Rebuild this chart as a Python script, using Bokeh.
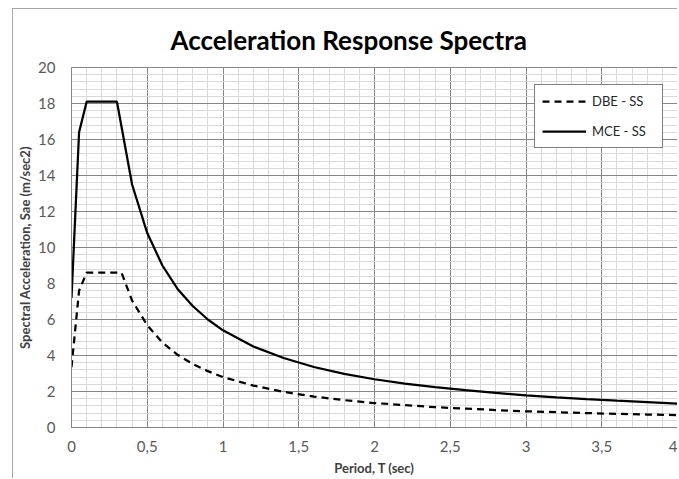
import numpy as np
from bokeh.plotting import figure
from bokeh.models import Range1d, FixedTicker, Legend, LegendItem
from bokeh.embed import file_html
from bokeh.resources import INLINE

# ---- data ----
period = [0, 0.05, 0.1, 0.3, 0.4, 0.5, 0.6, 0.7, 0.8, 0.9, 1.0, 1.2, 1.4, 1.6, 1.8,
          2.0, 2.2, 2.4, 2.6, 2.8, 3.0, 3.2, 3.4, 3.6, 3.8, 4.0]
mce_ss = [7.2, 16.4, 18.1, 18.1, 13.5, 10.8, 9.0, 7.7, 6.75, 6.0, 5.4, 4.5, 3.86, 3.36, 2.98,
          2.68, 2.44, 2.24, 2.07, 1.92, 1.79, 1.68, 1.58, 1.49, 1.41, 1.33]

period_dbe = [0, 0.05, 0.1, 0.33, 0.4, 0.5, 0.6, 0.7, 0.8, 0.9, 1.0, 1.2, 1.4, 1.6, 1.8,
              2.0, 2.2, 2.4, 2.6, 2.8, 3.0, 3.2, 3.4, 3.6, 3.8, 4.0]
dbe_ss = [3.35, 7.6, 8.6, 8.6, 7.05, 5.68, 4.72, 4.04, 3.53, 3.13, 2.8, 2.33, 1.98, 1.72, 1.52,
          1.36, 1.24, 1.13, 1.05, 0.97, 0.9, 0.85, 0.8, 0.76, 0.72, 0.69]

x_ticks = [0, 0.5, 1, 1.5, 2, 2.5, 3, 3.5, 4]
x_tick_labels = ["0", "0,5", "1", "1,5", "2", "2,5", "3", "3,5", "4"]
y_ticks = [0, 2, 4, 6, 8, 10, 12, 14, 16, 18, 20]
y_tick_labels = ["0", "2", "4", "6", "8", "10", "12", "14", "16", "18", "20"]

title_text = "Acceleration Response Spectra"
x_title = "Period, T (sec)"
y_title = "Spectral Acceleration, Sae (m/sec2)"
series_names = ["DBE - SS", "MCE - SS"]

FONT = "Lato"

p = figure(frame_width=606, frame_height=360,
           output_backend="svg", toolbar_location=None,
           x_range=Range1d(0, 4), y_range=Range1d(0, 20),
           min_border_left=58, min_border_right=0, min_border_top=58, min_border_bottom=44,
           background_fill_color="white", border_fill_color="white")
p.styles = {"margin-left": "12px", "margin-top": "8px",
            "border-left": "1px solid #a6a6a6",
            "border-top": "1px solid #a6a6a6"}

p.title.text = title_text
p.title.align = "left"
p.title.offset = 99
p.title.text_font = FONT
p.title.text_font_size = "26px"
p.title.text_font_style = "bold"
p.title.text_color = "black"
p.title.standoff = 24

minor_x = [round(v, 2) for v in np.arange(0, 4.0001, 0.1)]
minor_y = [round(v, 2) for v in np.arange(0, 20.0001, 0.4)]

p.xaxis.ticker = FixedTicker(ticks=x_ticks, minor_ticks=minor_x)
p.yaxis.ticker = FixedTicker(ticks=y_ticks, minor_ticks=minor_y)
p.xaxis.major_label_overrides = {t: l for t, l in zip(x_ticks, x_tick_labels)}
p.yaxis.major_label_overrides = {t: l for t, l in zip(y_ticks, y_tick_labels)}

for ax in (p.xaxis, p.yaxis):
    ax.major_tick_line_color = None
    ax.minor_tick_line_color = None
    ax.major_tick_out = 0
    ax.major_tick_in = 0
    ax.axis_line_color = "#868686"
    ax.major_label_text_font = FONT
    ax.major_label_text_font_size = "15px"
    ax.major_label_text_color = "#595959"
    ax.axis_label_text_font = FONT
    ax.axis_label_text_font_size = "13px"
    ax.axis_label_text_font_style = "bold"
    ax.axis_label_text_color = "#404040"

p.xaxis.axis_label = x_title
p.yaxis.axis_label = y_title
p.xaxis.major_label_standoff = 9
p.xaxis.axis_label_standoff = 5
p.yaxis.major_label_standoff = 12
p.yaxis.axis_label_standoff = 2

p.grid.grid_line_color = "#868686"
p.grid.grid_line_width = 1
p.grid.minor_grid_line_color = "#d9d9d9"
p.grid.minor_grid_line_width = 1
p.outline_line_color = "#868686"

r_dbe = p.line(period_dbe, dbe_ss, line_color="black", line_width=2.25, line_dash="7 5")
r_mce = p.line(period, mce_ss, line_color="black", line_width=2.25)

legend = Legend(items=[LegendItem(label=series_names[0], renderers=[r_dbe]),
                       LegendItem(label=series_names[1], renderers=[r_mce])],
                location=(463, 279))
legend.border_line_color = "black"
legend.border_line_width = 1
legend.background_fill_color = "white"
legend.background_fill_alpha = 1
legend.label_text_font = FONT
legend.label_text_font_size = "13px"
legend.label_text_color = "#262626"
legend.glyph_width = 44
legend.glyph_height = 18
legend.label_height = 18
legend.label_width = 63
legend.label_standoff = 6
legend.padding = 7
legend.spacing = 12
legend.margin = 0
p.add_layout(legend, "center")

open("out.html", "w").write(file_html(p, INLINE))
